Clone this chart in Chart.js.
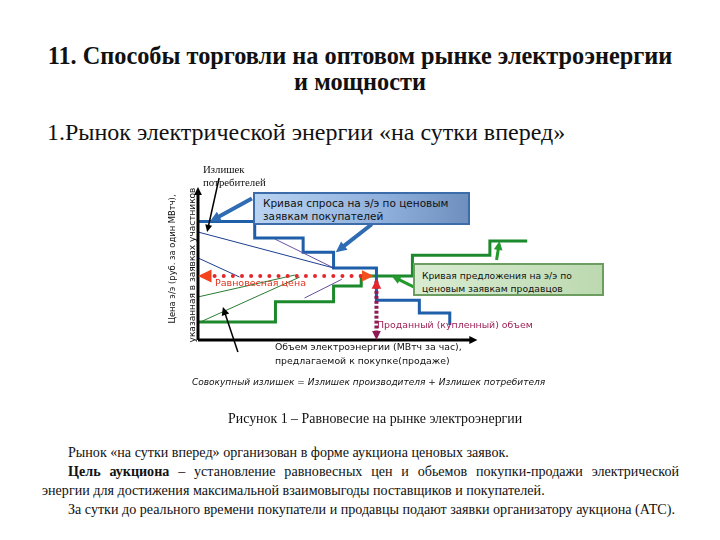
<!DOCTYPE html>
<html lang="ru">
<head>
<meta charset="utf-8">
<script src="https://cdn.jsdelivr.net/npm/chart.js@4.4.1/dist/chart.umd.min.js"></script>
<style>
  body { margin: 0; background: #fff; }
  #page { position: relative; width: 720px; height: 540px; overflow: hidden; background: #fff; }
  .serif { font-family: "Liberation Serif", "Times New Roman", serif; color: #111; }
  .sans { font-family: "DejaVu Sans", Verdana, sans-serif; color: #111; }
  .abs { position: absolute; white-space: nowrap; }
  #title { top: 43px; left: 0; width: 720px; text-align: center; font-size: 24.3px; font-weight: bold; line-height: 26px; }
  #sub { top: 119px; left: 47px; font-size: 24px; line-height: 26px; }
  #fig { top: 410px; left: 228px; font-size: 13.9px; line-height: 18px; }
  #para { position: absolute; top: 443px; left: 42px; width: 637px; font-size: 14.1px; line-height: 19px; text-align: justify; }
  #para p { margin: 0; text-indent: 26px; }
  #chartBox { position: absolute; left: 150px; top: 150px; width: 470px; height: 250px; }
  .box { position: absolute; line-height: 13px; box-sizing: border-box; }
  #demandBox { left: 253px; top: 192px; width: 217px; height: 33px; padding: 3px 0 0 8px; font-size: 10.5px;
    background: linear-gradient(to right, #b9d3f2, #8fb0dc 60%, #6f8fbe); border: 2px solid #3d6cab; }
  #supplyBox { left: 413px; top: 263px; width: 191px; height: 33px; padding: 4px 0 0 7px; font-size: 9.2px;
    background: linear-gradient(to right, #d9ecd2, #bcd9b0); border: 2px solid #6e9d62; }
</style>
</head>
<body>
<div id="page">
  <div id="title" class="abs serif">11. Способы торговли на оптовом рынке электроэнергии<br>и мощности</div>
  <div id="sub" class="abs serif">1.Рынок электрической энергии «на сутки вперед»</div>

  <div id="chartBox"><canvas id="marketChart" width="470" height="250"></canvas></div>

  <div class="abs serif" style="left:203px; top:163px; font-size:10.8px; line-height:13px;">Излишек<br>потребителей</div>
  <div id="demandBox" class="box sans">Кривая спроса на э/э по ценовым<br>заявкам покупателей</div>
  <div id="supplyBox" class="box sans">Кривая предложения на э/э по<br>ценовым заявкам продавцов</div>
  <div class="abs sans" style="left:215px; top:277px; font-size:9.5px; color:#e2321e;">Равновесная цена</div>
  <div class="abs sans" style="left:377px; top:319px; font-size:9.4px; color:#9c1f55;">Проданный (купленный) объем</div>
  <div class="abs sans" style="left:275px; top:340px; font-size:9.35px; line-height:14px;">Объем электроэнергии (МВтч за час),<br>предлагаемой к покупке(продаже)</div>
  <div class="abs sans" style="left:192px; top:377px; font-size:9px; font-style:italic;">Совокупный излишек = Излишек производителя + Излишек потребителя</div>
  <div class="abs sans" style="left:172px; top:259px; font-size:8.4px; transform:translate(-50%,-50%) rotate(-90deg);">Цена э/э (руб. за один МВтч),</div>
  <div class="abs sans" style="left:192px; top:265px; font-size:9px; transform:translate(-50%,-50%) rotate(-90deg);">указанная в заявках участников</div>

  <div id="fig" class="abs serif">Рисунок 1 – Равновесие на рынке электроэнергии</div>
  <div id="para" class="serif">
    <p>Рынок «на сутки вперед» организован в форме аукциона ценовых заявок.</p>
    <p><b>Цель аукциона</b> – установление равновесных цен и обьемов покупки-продажи электрической энергии для достижения максимальной взаимовыгоды поставщиков и покупателей.</p>
    <p>За сутки до реального времени покупатели и продавцы подают заявки организатору аукциона (АТС).</p>
  </div>
</div>

<script>
// volumes (x) and prices (y) in arbitrary units
const demandVolume = [0, 2.05, 3.8, 4.9, 6.45, 8.0, 9.1];
const demandPrice  = [7.9, 6.8, 5.85, 4.8, 2.65, 1.8, 1.0];
const supplyVolume = [0, 2.8, 4.9, 5.9, 7.75, 10.55, 11.9];
const supplyPrice  = [1.2, 2.55, 3.6, 4.27, 5.65, 6.6, 6.6];
const eqVolume = 6.45;
const eqPrice = 4.27;

// thin helper lines: [x1, y1, x2, y2]
const thinBlue   = [[0, 7.2, 4.91, 4.8], [0, 5.47, 1.5, 4.2]];
const thinPurple = [[2.78, 6.73, 4.91, 4.8], [3.85, 2.8, 5.2, 4.05]];
const thinGreen  = [[0, 2.87, 3.5, 4.33], [0, 1.13, 3.68, 4.2]];

function toPoints(xs, ys) {
    return xs.map((x, i) => ({ x: x, y: ys[i] }));
}

function segSets(list, color) {
    return list.map(s => ({
        data: [{ x: s[0], y: s[1] }, { x: s[2], y: s[3] }],
        borderColor: color, borderWidth: 1, pointRadius: 0, showLine: true
    }));
}

function arrowHead(ctx, x1, y1, x2, y2, size, color) {
    const a = Math.atan2(y2 - y1, x2 - x1);
    ctx.fillStyle = color;
    ctx.beginPath();
    ctx.moveTo(x2, y2);
    ctx.lineTo(x2 - size * Math.cos(a - 0.45), y2 - size * Math.sin(a - 0.45));
    ctx.lineTo(x2 - size * Math.cos(a + 0.45), y2 - size * Math.sin(a + 0.45));
    ctx.closePath();
    ctx.fill();
}

function arrow(ctx, x1, y1, x2, y2, width, color, size) {
    const a = Math.atan2(y2 - y1, x2 - x1);
    ctx.strokeStyle = color;
    ctx.lineWidth = width;
    ctx.beginPath();
    ctx.moveTo(x1, y1);
    ctx.lineTo(x2 - size * 0.7 * Math.cos(a), y2 - size * 0.7 * Math.sin(a));
    ctx.stroke();
    arrowHead(ctx, x1, y1, x2, y2, size, color);
}

const extras = {
    id: 'extras',
    afterDatasetsDraw(chart) {
        const ctx = chart.ctx;
        const sx = chart.scales.x, sy = chart.scales.y;
        const X = v => sx.getPixelForValue(v), Y = v => sy.getPixelForValue(v);
        ctx.save();

        // axes with arrows
        arrow(ctx, X(0), Y(0), X(0), Y(10.2), 3, '#000', 9);
        arrow(ctx, X(0), Y(0), X(10.1), Y(0), 3, '#000', 9);

        // equilibrium price: dotted red
        ctx.fillStyle = '#e5262a';
        for (let v = 0.6; v < eqVolume - 0.5; v += 0.33) {
            ctx.beginPath();
            ctx.arc(X(v), Y(eqPrice), 2, 0, Math.PI * 2);
            ctx.fill();
        }
        arrowHead(ctx, X(1), Y(eqPrice), X(0), Y(eqPrice), 15, '#f2431c');
        arrowHead(ctx, X(eqVolume - 1), Y(eqPrice), X(eqVolume - 0.1), Y(eqPrice), 13, '#f2501c');

        // sold volume: dotted purple
        ctx.fillStyle = '#8e1a55';
        for (let p = 0.5; p < eqPrice - 0.4; p += 0.33) {
            ctx.fillRect(X(eqVolume) - 2, Y(p) - 2, 4, 3);
        }
        arrowHead(ctx, X(eqVolume), Y(eqPrice - 1), X(eqVolume), Y(eqPrice - 0.2), 11, '#e5262a');
        arrowHead(ctx, X(eqVolume), Y(1), X(eqVolume), Y(0), 10, '#8e1a55');

        // callout arrows from label boxes
        const t1 = { x: X(0.43), y: Y(demandPrice[0]) };
        arrow(ctx, t1.x + 42, t1.y - 23, t1.x, t1.y, 4, '#2f6cb3', 12);
        const t2 = { x: X(demandVolume[3] + 0.08), y: Y(demandPrice[2]) };
        arrow(ctx, t2.x + 36, t2.y - 28, t2.x, t2.y, 4, '#2f6cb3', 12);
        const t3 = { x: X(7.0), y: Y(supplyPrice[3]) };
        arrow(ctx, t3.x + 26, t3.y + 13, t3.x, t3.y, 3, '#239a2b', 10);
        const t4 = { x: X(10.9), y: Y(supplyPrice[5]) };
        arrow(ctx, t4.x - 3, t4.y + 19, t4.x, t4.y, 3, '#239a2b', 10);

        // black pointers to surplus areas
        const t5 = { x: X(0.33), y: Y(7.2) };
        arrow(ctx, t5.x + 12, t5.y - 54, t5.x, t5.y, 1.5, '#000', 8);
        const t6 = { x: X(0.9), y: Y(2.2) };
        arrow(ctx, t6.x + 15, t6.y + 45, t6.x, t6.y, 1.5, '#000', 9);

        ctx.restore();
    }
};

new Chart(document.getElementById('marketChart'), {
    type: 'scatter',
    data: {
        datasets: [
            ...segSets(thinBlue, '#1d3f8f'),
            ...segSets(thinPurple, '#6a4fa6'),
            ...segSets(thinGreen, '#2a7d33'),
            {
                label: 'Спрос',
                data: toPoints(demandVolume, demandPrice),
                showLine: true, stepped: 'before',
                borderColor: '#1f5ea8', borderWidth: 3, pointRadius: 0
            },
            {
                label: 'Предложение',
                data: toPoints(supplyVolume, supplyPrice),
                showLine: true, stepped: 'before',
                borderColor: '#1c8a2c', borderWidth: 3, pointRadius: 0
            }
        ]
    },
    options: {
        responsive: false,
        animation: false,
        layout: { padding: { left: 48, right: 90, top: 40, bottom: 60 } },
        plugins: { legend: { display: false }, tooltip: { enabled: false } },
        scales: {
            x: { type: 'linear', min: 0, max: 12, display: false },
            y: { type: 'linear', min: 0, max: 10, display: false }
        }
    },
    plugins: [extras]
});
</script>
</body>
</html>
